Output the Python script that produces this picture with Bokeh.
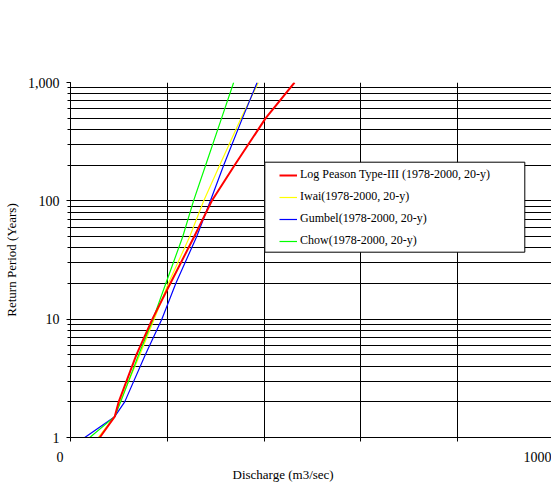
from bokeh.plotting import figure
from bokeh.models import (Range1d, FixedTicker, NumeralTickFormatter, Legend, LegendItem,
                          BoxAnnotation, Title)
from bokeh.embed import file_html
from bokeh.resources import INLINE

# ---- data ----
return_period = [1, 1.5, 2, 5, 10, 20, 50, 100, 200, 500, 1000]
log_pearson = [60.4, 91.3, 99.6, 136.1, 169.1, 206.2, 255.7, 292.0, 339.0, 403.3, 462.9]
iwai = [57.1, 91.3, 102.1, 143.3, 172.8, 202.1, 246.4, 275.3, 308.2, 352.6, 388.2]
gumbel = [29.5, 91.3, 112.0, 154.6, 188.7, 217.5, 260.8, 289.1, 316.5, 355.3, 385.6]
chow = [39.8, 91.3, 103.7, 140.8, 170.5, 196.9, 232.0, 254.2, 279.2, 312.2, 337.1]

series_labels = ["Log Peason Type-III (1978-2000, 20-y)", "Iwai(1978-2000, 20-y)",
                 "Gumbel(1978-2000, 20-y)", "Chow(1978-2000, 20-y)"]
x_tick_labels = ["0", "1000"]
x_gridlines = [0, 200, 400, 600, 800]
x_title = "Discharge (m3/sec)"
y_title = "Return Period (Years)"

FONT = "Liberation Serif"
NBSP = "\u00a0"

# the chart is cut at the right edge: the visible axis ends just short of 1000,
# and the "1000" label sits at the right edge
X_END = 993.8
X_LABEL_ANCHORS = [0, 985]

p = figure(width=551, height=482, y_axis_type="log",
           x_range=Range1d(0, X_END), y_range=Range1d(1, 1000),
           output_backend="svg", toolbar_location=None,
           min_border_left=69, min_border_top=82, min_border_bottom=45, min_border_right=0)
p.outline_line_color = None
p.background_fill_color = "white"
p.border_fill_color = "white"

# x axis (the "0" label sits a little left of its tick, as in the original)
p.xaxis.ticker = FixedTicker(ticks=X_LABEL_ANCHORS, minor_ticks=x_gridlines)
p.xaxis.major_label_overrides = {X_LABEL_ANCHORS[0]: x_tick_labels[0] + NBSP * 6,
                                 X_LABEL_ANCHORS[1]: x_tick_labels[1]}
p.xaxis.major_label_text_font = FONT
p.xaxis.major_label_text_font_size = "14px"
p.xaxis.major_label_text_color = "black"
p.xaxis.major_label_standoff = 8
p.xaxis.major_tick_in = 0
p.xaxis.major_tick_out = 4
p.xaxis.major_tick_line_color = None
p.xaxis.minor_tick_in = 0
p.xaxis.minor_tick_out = 4
p.xaxis.minor_tick_line_color = "black"
p.xaxis.axis_line_color = "black"

# y axis
p.yaxis.formatter = NumeralTickFormatter(format="0,0")
p.yaxis.major_label_text_font = FONT
p.yaxis.major_label_text_font_size = "14px"
p.yaxis.major_label_text_color = "black"
p.yaxis.major_label_standoff = 7
p.yaxis.major_tick_in = 0
p.yaxis.major_tick_out = 4
p.yaxis.minor_tick_in = 0
p.yaxis.minor_tick_out = 3
p.yaxis.axis_line_color = "black"
p.yaxis.major_tick_line_color = "black"
p.yaxis.minor_tick_line_color = "black"
p.yaxis.axis_label = y_title
p.yaxis.axis_label_text_font = FONT
p.yaxis.axis_label_text_font_size = "13px"
p.yaxis.axis_label_text_font_style = "normal"
p.yaxis.axis_label_text_color = "black"
p.yaxis.axis_label_standoff = 6

# grids
p.xgrid.grid_line_color = None
p.xgrid.minor_grid_line_color = "black"
p.ygrid.grid_line_color = "black"
p.ygrid.minor_grid_line_color = "black"

# x title below the axis
p.add_layout(Title(text=x_title, align="left", offset=162, standoff=-6,
                   text_font=FONT, text_font_size="13px", text_font_style="normal",
                   text_color="black"), "below")

# series (draw order: yellow, blue, green, red on top)
r_iwai = p.line(iwai, return_period, line_color="#FFFF00", line_width=1.2)
r_gumbel = p.line(gumbel, return_period, line_color="#0000FF", line_width=1.2)
r_chow = p.line(chow, return_period, line_color="#00FF00", line_width=1.2)
r_lp3 = p.line(log_pearson, return_period, line_color="#FF0000", line_width=2)

# legend frame
box = BoxAnnotation(left=194.3, right=454.3, bottom=185.3, top=275.3,
                    left_units="screen", right_units="screen",
                    bottom_units="screen", top_units="screen",
                    fill_color="white", fill_alpha=1.0,
                    line_color="black", line_width=1, line_alpha=1.0)
p.add_layout(box)

legend = Legend(items=[
    LegendItem(label=series_labels[0], renderers=[r_lp3]),
    LegendItem(label=series_labels[1], renderers=[r_iwai]),
    LegendItem(label=series_labels[2], renderers=[r_gumbel]),
    LegendItem(label=series_labels[3], renderers=[r_chow]),
], location=(206, 183.3))
legend.padding = 3
legend.spacing = 2
legend.margin = 0
legend.glyph_width = 18
legend.glyph_height = 20
legend.label_height = 20
legend.label_standoff = 3
legend.border_line_alpha = 0
legend.background_fill_alpha = 0
legend.label_text_font = FONT
legend.label_text_font_size = "12px"
legend.label_text_color = "black"
p.add_layout(legend)

open("out.html", "w").write(file_html(p, INLINE))
